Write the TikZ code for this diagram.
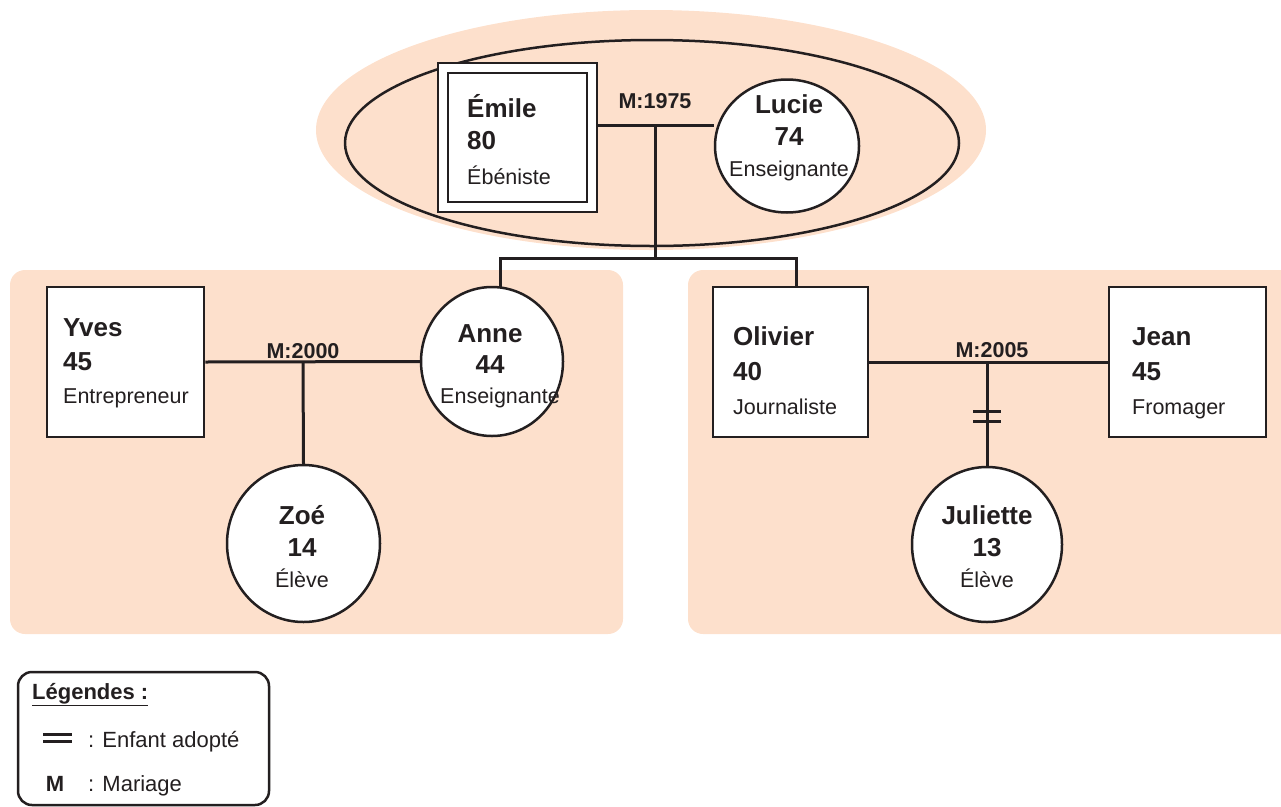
\documentclass[tikz,border=0pt]{standalone}
\usepackage{fontspec}
\setmainfont{Liberation Sans}
\usetikzlibrary{shapes.geometric,calc}
\definecolor{peach}{RGB}{253,224,204}
\definecolor{ink}{RGB}{35,31,32}
\newcommand\namefont{\bfseries\fontsize{26}{30}\selectfont}
\newcommand\jobfont{\fontsize{21.5}{25}\selectfont}
\newcommand\marfont{\bfseries\fontsize{21.5}{24}\selectfont}
\newcommand\legfont{\fontsize{22}{26}\selectfont}
\pgfdeclarelayer{back}
\pgfdeclarelayer{mid}
\pgfsetlayers{back,mid,main}
\begin{document}
\begin{tikzpicture}[x=1pt,y=-1pt,
  line width=2.5pt, color=ink,
  man/.style={draw=ink,line width=2.5pt,fill=white,rectangle,inner sep=0pt},
  woman/.style={draw=ink,line width=2.5pt,fill=white,ellipse,inner sep=0pt},
  nm/.style={inner sep=0pt,font=\namefont,text=ink},
  jb/.style={inner sep=0pt,font=\jobfont,text=ink},
  lab/.style={inner sep=0pt,anchor=base,font=\marfont,text=ink},
  link/.style={draw=ink,line width=3pt}]
\clip (0,0) rectangle (1281,806);

% backgrounds
\begin{pgfonlayer}{back}
\fill[peach] (651,130) ellipse [x radius=335, y radius=120];
\fill[peach,rounded corners=15pt] (10,270) rectangle (623,634);
\fill[peach,rounded corners=15pt] (688,270) rectangle (1310,634);
\end{pgfonlayer}

% generation 1
\node[draw=ink,line width=2.5pt,ellipse,minimum width=614pt,minimum height=206pt,inner sep=0pt] (fam1) at (652,143) {};
\node[man,minimum width=159pt,minimum height=149pt] (emileO) at (517.5,137.5) {};
\node[draw=ink,line width=2.5pt,rectangle,inner sep=0pt,minimum width=139pt,minimum height=129pt] (emile) at (517.5,137.5) {};
\node[woman,minimum width=144pt,minimum height=133pt] (lucie) at (787,146) {};

\node[nm,anchor=base west] (emileN) at (467,117) {Émile};
\node[nm,anchor=base west] (emileA) at (467,149) {80};
\node[jb,anchor=base west] (emileJ) at (467,184) {Ébéniste};
\node[nm,anchor=base] (lucieN) at (789,113) {Lucie};
\node[nm,anchor=base] (lucieA) at (789,145) {74};
\node[jb,anchor=base] (lucieJ) at (789,176) {Enseignante};

\coordinate (m1) at (655,125);
\coordinate (k1) at (655,258);
\node[lab] (l1) at (655,108) {M:1975};

% generation 2 left
\node[man,minimum width=157pt,minimum height=150pt] (yves) at (125.5,362) {};
\node[woman,minimum width=142pt,minimum height=149pt] (anne) at (492,361.5) {};
\node[woman,minimum width=153pt,minimum height=157pt] (zoe) at (303.5,543.5) {};

\node[nm,anchor=base west] (yvesN) at (63,336) {Yves};
\node[nm,anchor=base west] (yvesA) at (63,370) {45};
\node[jb,anchor=base west] (yvesJ) at (63,403) {Entrepreneur};
\node[nm,anchor=base] (anneN) at (490,342) {Anne};
\node[nm,anchor=base] (anneA) at (490,373) {44};
\node[jb,anchor=base] (anneJ) at (500,403) {Enseignante};
\node[nm,anchor=base] (zoeN) at (302,524) {Zoé};
\node[nm,anchor=base] (zoeA) at (302,556) {14};
\node[jb,anchor=base] (zoeJ) at (302,587) {Élève};

\coordinate (m2) at (303,363);
\node[lab] (l2) at (303,358) {M:2000};

% generation 2 right
\node[man,minimum width=155pt,minimum height=150pt] (olivier) at (790.5,362) {};
\node[man,minimum width=157pt,minimum height=150pt] (jean) at (1187.5,362) {};
\node[woman,minimum width=150pt,minimum height=155pt] (juliette) at (987,544.5) {};

\node[nm,anchor=base west] (olivierN) at (733,345) {Olivier};
\node[nm,anchor=base west] (olivierA) at (733,380) {40};
\node[jb,anchor=base west] (olivierJ) at (733,414) {Journaliste};
\node[nm,anchor=base west] (jeanN) at (1132,345) {Jean};
\node[nm,anchor=base west] (jeanA) at (1132,380) {45};
\node[jb,anchor=base west] (jeanJ) at (1132,414) {Fromager};
\node[nm,anchor=base] (julN) at (987,524) {Juliette};
\node[nm,anchor=base] (julA) at (987,556) {13};
\node[jb,anchor=base] (julJ) at (987,587) {Élève};

\coordinate (m3) at (987,363);
\node[lab] (l3) at (992,357) {M:2005};

% connectors
\begin{pgfonlayer}{mid}
\draw[link] (emileO.east |- m1) -- (m1) -- (lucie.west |- m1);
\draw[link] (m1) -- (k1);
\draw[link] ($(anne.north)+(8,5)$) -- ($(anne.north)+(8,0)$) |- (k1) -| ($(olivier.north)+(5.5,0)$);
\draw[link] (yves.east) -- (anne.west);
\draw[link] (m2) -- (zoe.north);
\draw[link] (olivier.east) -- (jean.west);
\draw[link] (m3) -- (juliette.north);
\draw[link] ($(m3)+(-14,48)$) -- ++(28,0);
\draw[link] ($(m3)+(-14,58)$) -- ++(28,0);
\end{pgfonlayer}

% legend
\draw[draw=ink,line width=2.5pt,rounded corners=14pt] (18,672) rectangle (269,805);
\node[inner sep=0pt,anchor=base west,font=\legfont\bfseries,text=ink] (legT) at (32,699) {\underline{Légendes :}};
\coordinate (s1) at (43,734);
\coordinate (s2) at (43,741);
\draw[link] (s1) -- ++(29,0);
\draw[link] (s2) -- ++(29,0);
\node[inner sep=0pt,anchor=base west,font=\legfont,text=ink] (legA) at (88,747) {: Enfant adopté};
\node[inner sep=0pt,anchor=base,font=\legfont\bfseries,text=ink] (legM) at (55,791) {M};
\node[inner sep=0pt,anchor=base west,font=\legfont,text=ink] (legMt) at (88,791) {: Mariage};
\end{tikzpicture}
\end{document}
